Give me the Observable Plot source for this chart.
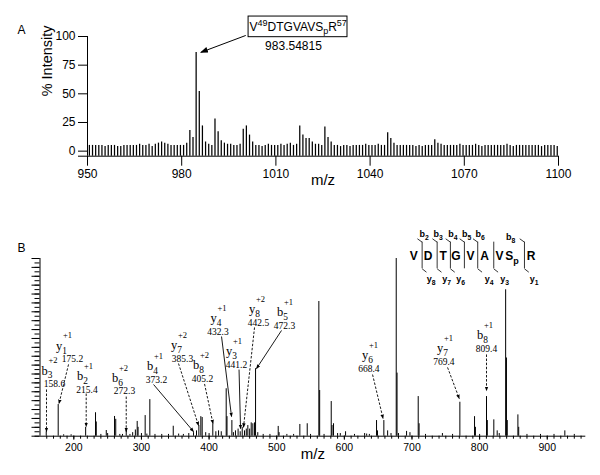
<!DOCTYPE html>
<html><head><meta charset="utf-8">
<script src="https://cdn.jsdelivr.net/npm/d3@7"></script>
<script src="https://cdn.jsdelivr.net/npm/@observablehq/plot@0.6"></script>
<style>
body{margin:0;background:#fff;}
#chart{width:600px;height:475px;overflow:hidden;background:#fff;}
#chart svg{display:block;overflow:visible;}
</style></head><body><div id="chart"></div><script>
// ---------- Panel A : MS spectrum ----------
const specAmz = [
950.6,951.6,952.6,953.6,954.6,955.6,956.6,957.6,958.6,959.6,
960.6,961.6,962.6,963.6,964.6,965.6,966.6,967.6,968.6,969.6,
970.6,971.6,972.6,973.6,974.6,975.6,976.6,977.6,978.6,979.6,
980.6,981.6,982.6,983.6,984.6,985.6,986.6,987.6,988.6,989.6,
990.6,991.6,992.6,993.6,994.6,995.6,996.6,997.6,998.6,999.6,
1000.6,1001.6,1002.6,1003.6,1004.6,1005.6,1006.6,1007.6,1008.6,1009.6,
1010.6,1011.6,1012.6,1013.6,1014.6,1015.6,1016.6,1017.6,1018.6,1019.6,
1020.6,1021.6,1022.6,1023.6,1024.6,1025.6,1026.6,1027.6,1028.6,1029.6,
1030.6,1031.6,1032.6,1033.6,1034.6,1035.6,1036.6,1037.6,1038.6,1039.6,
1040.6,1041.6,1042.6,1043.6,1044.6,1045.6,1046.6,1047.6,1048.6,1049.6,
1050.6,1051.6,1052.6,1053.6,1054.6,1055.6,1056.6,1057.6,1058.6,1059.6,
1060.6,1061.6,1062.6,1063.6,1064.6,1065.6,1066.6,1067.6,1068.6,1069.6,
1070.6,1071.6,1072.6,1073.6,1074.6,1075.6,1076.6,1077.6,1078.6,1079.6,
1080.6,1081.6,1082.6,1083.6,1084.6,1085.6,1086.6,1087.6,1088.6,1089.6,
1090.6,1091.6,1092.6,1093.6,1094.6,1095.6,1096.6,1097.6,1098.6,1099.6];
const specAint = [
5,5,5,5,5,4,5,5,5,4,
4,5,5,5,5,5,6,5,5,6,
4,6,7,8,7,6,5,5,5,5,
5,7,18,12,86,52,22,8,6,5,
28,17,9,7,6,6,5,5,6,19,
22,14,8,5,5,4,5,6,5,5,
5,6,5,6,7,5,6,22,14,11,
11,8,6,6,5,21,12,8,5,5,
4,5,5,4,5,5,5,5,6,5,
5,5,6,5,5,16,11,7,5,5,
5,5,5,5,4,5,4,5,5,5,
10,7,6,5,5,5,5,5,6,5,
5,5,5,6,5,4,5,5,5,5,
5,5,5,6,5,4,5,5,5,5,
5,5,5,5,4,5,5,5,5,4];
const baseA = -4.4;
const xTicksA = [950, 980, 1010, 1040, 1070, 1100];
const yTicksA = [0, 25, 50, 75, 100];
const annotA = [{label: "V^{49}DTGVAVS_{p}R^{57}", mass: "983.54815",
  bx1: 1001.3, bx2: 1032.8, by1: 99.4, by2: 117.4,
  lx: 1017.1, ly: 108.4, mx: 1015.6, my: 91.3,
  ax1: 1000.4, ay1: 100.9, ax2: 986.2, ay2: 86.3}];

// ---------- Panel B : MS/MS spectrum ----------
const specBmz = [159.2,176.9,185,196,217.5,232.1,233.2,240,248,250,260.2,262,268,272,277.5,283,287,291,293.7,295,300,
305.5,308,312.4,320,330,340,347,355,362,370,377,381.4,384.9,387.8,389.8,395,400,405.5,410,414,418,425.3,426.5,
433.7,436,439,442.9,446,449,452.4,455,457.3,460,462.3,464.7,467.2,468.7,472,480,490,502.2,503.5,515,525,534.2,
545.1,550,562.3,563.5,570,580.6,581.8,584,590,594,601.8,615,630,633,637,647.6,649,658.4,664,669,676.7,677.9,
680,692,697,709.2,710.5,720,745,760,770.8,792.5,793.8,800,810.2,811.4,821,826,829,838.5,839.7,840.9,856.6,857.8,
870,890,910,926,940];
const specBint = [2.5,17.8,0.8,0.8,5,13.2,8,1,3.2,1.5,11.1,9.5,1,1,3.2,1,2,3.5,8.3,5,1.5,
11.6,1.2,20.6,1,1,1,5.6,1.2,1,1.5,2,3,6,11,10.5,2,1.5,7,2.5,3,2.5,26.7,11,
8.8,2,3,4,2.5,5,3,4,6,4,7.5,7,7.5,38,2,1,1,5.5,2,1,1,6.6,
7,1,75.8,25.7,1,19.5,6,7,1.5,1.5,2.5,1,1.5,1.2,1,8.8,3,8.8,3,1.5,100,35.5,
1.5,2.7,2,22.3,7,1,1.5,1,19.1,11,5,1,22.3,8.8,9.2,3,1.5,82.4,44,8.8,12,5,
1,1,1,3,1];
const xTicksB = [200, 300, 400, 500, 600, 700, 800, 900];

// fragment ion annotations
const ionType   = ["b","y","b","b","b","y","b","y","y","y","b","y","y","b"];
const ionIndex  = ["3","1","2","6","4","7","8","4","3","8","5","6","7","8"];
const ionCharge = ["+2","+1","+1","+2","+1","+2","+2","+1","+1","+2","+1","+1","+1","+1"];
const ionMass   = ["158.6","175.2","215.4","272.3","373.2","385.3","405.2","432.3","441.2","442.5","472.3","668.4","769.4","809.4"];
const ionLx = [160.4,181.8,212.9,264.6,316.4,351.9,384.4,410.3,433.2,467.2,508.6,634.3,745.2,804.3];
const ionLy = [36.9,50.9,34.0,32.7,39.6,51.4,39.9,66.3,47.9,71.3,70.0,45.6,49.7,56.9];
const ionNx = [171.5,198.1,219.5,275.0,322.3,360.7,390.3,413.2,440.6,473.1,511.6,636.2,747.1,810.2];
const ionNy = [29.4,43.2,26.3,25.2,31.9,43.7,32.2,58.6,40.3,63.7,62.3,37.9,42.0,49.2];
const arrX1 = [159.6,192.2,218.3,277.5,317.9,354.8,393.3,418.4,444.3,467.2,507.1,641.7,752.6,810.2];
const arrY1 = [26.3,40.4,24.0,22.3,29.1,40.9,29.4,56.1,37.5,61.2,59.5,34.7,38.7,46.0];
const arrX2 = [159.6,178.1,218.3,277.5,377.0,384.4,405.8,433.2,446.5,450.9,470.2,657.2,769.9,810.2];
const arrY2 = [2.6,18.4,5.5,2.6,2.6,6.0,7.1,11.1,4.3,5.1,38.1,10.0,21.2,25.7];
const arrDashed = [1,1,1,1,0,1,1,0,0,1,0,1,1,1];

// peptide sequence / fragmentation diagram
const seqLetters = ["V","D","T","G","V","A","V","S_{p}","R"];
const seqMz = [702.6,723.8,746.1,765.0,786.6,807.2,829.5,848.0,876.1];
const seqV = 101.1;
const cutMz = [715.0,737.2,756.8,777.5,797.2,820.9,866.3];
const cutTop = [1,1,1,1,1,0,1];
const cutBottom = [1,1,1,0,1,1,1];
const cutV = [94.2, 109.2];
const bLabels = ["b_{2}","b_{3}","b_{4}","b_{5}","b_{6}","b_{8}"];
const bMz = [717.8,738.5,760.4,780.7,800.6,845.7];
const bV = [113.8,113.8,113.8,113.8,113.8,112.1];
const yLabels = ["y_{8}","y_{7}","y_{6}","y_{4}","y_{3}","y_{1}"];
const yMz = [728.2,751.1,771.8,814.2,836.9,880.5];
const yV = 88.2;

// ---------- build tables ----------
const specA = specAmz.map((m, i) => ({mz: m, h: specAint[i], base: baseA}));
const specB = specBmz.map((m, i) => ({mz: m, h: specBint[i]}));
const ions = ionType.map((t, i) => ({lab: `${t}_{${ionIndex[i]}}`, z: ionCharge[i], mass: ionMass[i],
  lx: ionLx[i], ly: ionLy[i], nx: ionNx[i], ny: ionNy[i],
  x1: arrX1[i], y1: arrY1[i], x2: arrX2[i], y2: arrY2[i], dashed: arrDashed[i]}));
const seq = seqLetters.map((s, i) => ({s, m: seqMz[i]}));
const cuts = cutMz.map((m, i) => ({m, top: cutTop[i], bottom: cutBottom[i]}));
const bl = bLabels.map((s, i) => ({s, m: bMz[i], v: bV[i]}));
const yl = yLabels.map((s, i) => ({s, m: yMz[i]}));

const sans = "Liberation Sans, Arial, Helvetica, sans-serif";
const serif = "Liberation Serif, Times New Roman, serif";
const plain = d => `${d}`;

const plotA = Plot.plot({
  width: 600, height: 205,
  marginLeft: 87, marginRight: 42, marginTop: 36, marginBottom: 49.3,
  x: {domain: [950, 1100]},
  y: {domain: [baseA, 100]},
  style: {fontFamily: sans, color: "black", background: "white", overflow: "visible"},
  marks: [
    Plot.ruleX(specA, {x: "mz", y1: "base", y2: "h", stroke: "black", strokeWidth: 1.25}),
    Plot.ruleX([950], {y1: baseA, y2: 100, stroke: "black"}),
    Plot.ruleY([baseA], {x1: 950, x2: 1100, stroke: "black"}),
    Plot.axisY({ticks: yTicksA, tickSize: 9, tickPadding: 3, fontSize: 12, tickFormat: plain, label: null}),
    Plot.axisY({ticks: [baseA], tickSize: 9, tickFormat: () => "", label: null}),
    Plot.axisX({ticks: xTicksA, tickSize: 10, tickPadding: 3, fontSize: 12, tickFormat: plain, label: null}),
    Plot.text(["% Intensity"], {text: d => d, frameAnchor: "left", rotate: -90, dx: -40, fontSize: 14.5}),
    Plot.text(["m/z"], {text: d => d, frameAnchor: "bottom", dy: 29, fontSize: 15}),
    Plot.text(["A"], {text: d => d, frameAnchor: "top-left", dx: -70, dy: -11, fontSize: 12}),
    Plot.rect(annotA, {x1: "bx1", x2: "bx2", y1: "by1", y2: "by2", fill: "white", stroke: "black", strokeWidth: 1}),
    Plot.text(annotA, {x: "lx", y: "ly", text: "label", fontSize: 12}),
    Plot.text(annotA, {x: "mx", y: "my", text: "mass", fontSize: 12}),
    Plot.link(annotA, {x1: "ax1", y1: "ay1", x2: "ax2", y2: "ay2", stroke: "black", strokeWidth: 1, markerEnd: "arrow"})
  ]
});

const plotB = Plot.plot({
  width: 600, height: 270,
  marginLeft: 39.5, marginRight: 14.7, marginTop: 53, marginBottom: 39.3,
  x: {domain: [150, 957]},
  y: {domain: [0, 100]},
  style: {fontFamily: sans, color: "black", background: "white", overflow: "visible"},
  marks: [
    Plot.ruleX(specB, {x: "mz", y1: 0, y2: "h", stroke: "black", strokeWidth: 1}),
    Plot.ruleX([150], {y1: 0, y2: 100, stroke: "black"}),
    Plot.ruleY([0], {x1: 150, x2: 957, stroke: "black"}),
    Plot.axisY({ticks: d3.range(0, 100.1, 2.5), tickSize: 5, tickFormat: () => "", label: null}),
    Plot.axisY({ticks: d3.range(0, 100.1, 5), tickSize: 8, tickFormat: () => "", label: null}),
    Plot.axisX({ticks: d3.range(160, 951, 10), tickSize: 3, tickFormat: () => "", label: null}),
    Plot.axisX({ticks: xTicksB, tickSize: 4, tickPadding: 3, fontSize: 10.5, tickFormat: plain, label: null}),
    Plot.text(["m/z"], {text: d => d, frameAnchor: "bottom", dy: 23, fontSize: 15}),
    Plot.text(["B"], {text: d => d, frameAnchor: "top-left", dx: -22.5, dy: -15, fontSize: 12}),
    // ion annotations
    Plot.link(ions.filter(d => d.dashed), {x1: "x1", y1: "y1", x2: "x2", y2: "y2", stroke: "black", strokeWidth: 0.9, strokeDasharray: "2.5,1.6", markerEnd: "arrow"}),
    Plot.link(ions.filter(d => !d.dashed), {x1: "x1", y1: "y1", x2: "x2", y2: "y2", stroke: "black", strokeWidth: 0.9, markerEnd: "arrow"}),
    Plot.text(ions, {x: "lx", y: "ly", text: "lab", fontFamily: serif, fontSize: 12.5}),
    Plot.text(ions, {x: "lx", y: "ly", text: "z", dx: 6, dy: -10, fontFamily: serif, fontSize: 8.5}),
    Plot.text(ions, {x: "nx", y: "ny", text: "mass", fontFamily: serif, fontSize: 9.5}),
    // sequence diagram
    Plot.text(seq, {x: "m", y: seqV, text: "s", fontWeight: "bold", fontSize: 12}),
    Plot.ruleX(cuts, {x: "m", y1: cutV[0], y2: cutV[1], stroke: "black", strokeWidth: 0.8}),
    Plot.link(cuts.filter(d => d.top), {x1: d => d.m - 7, y1: cutV[1] + 1.9, x2: "m", y2: cutV[1], stroke: "black", strokeWidth: 0.8}),
    Plot.link(cuts.filter(d => d.bottom), {x1: "m", y1: cutV[0], x2: d => d.m + 6.4, y2: cutV[0] - 1.9, stroke: "black", strokeWidth: 0.8}),
    Plot.text(bl, {x: "m", y: "v", text: "s", fontWeight: "bold", fontSize: 9}),
    Plot.text(yl, {x: "m", y: yV, text: "s", fontWeight: "bold", fontSize: 9})
  ]
});

const chart = document.getElementById("chart");
chart.appendChild(plotA);
chart.appendChild(plotB);

function richify(svg) {
  svg.querySelectorAll("text").forEach(el => {
    const t = el.textContent;
    if (!/[\^_]\{/.test(t)) return;
    const fs = parseFloat(getComputedStyle(el).fontSize) || 12;
    while (el.firstChild) el.removeChild(el.firstChild);
    const re = /([\^_])\{([^}]*)\}|([^\^_]+)/g;
    let m, cur = 0;
    while ((m = re.exec(t))) {
      const ts = document.createElementNS("http://www.w3.org/2000/svg", "tspan");
      let off, txt;
      if (m[3] !== undefined) { off = 0; txt = m[3]; }
      else { off = m[1] === "^" ? -0.42 * fs : 0.3 * fs; txt = m[2]; ts.setAttribute("font-size", (0.75 * fs).toFixed(1)); }
      if (off !== cur) ts.setAttribute("dy", (off - cur).toFixed(2));
      cur = off; ts.textContent = txt; el.appendChild(ts);
    }
  });
}
function fillMarkers(svg, scale) {
  svg.querySelectorAll("marker").forEach(mk => {
    mk.setAttribute("fill", "black");
    mk.setAttribute("stroke", "none");
    mk.setAttribute("stroke-dasharray", "none");
    mk.setAttribute("markerWidth", 6.67 * scale);
    mk.setAttribute("markerHeight", 6.67 * scale);
    const p = mk.querySelector("path");
    if (p) p.setAttribute("d", "M-5,-2.2L1,0L-5,2.2Z");
  });
}
[plotA, plotB].forEach(s => richify(s));
fillMarkers(plotA, 2);
fillMarkers(plotB, 1.3);
</script></body></html>
